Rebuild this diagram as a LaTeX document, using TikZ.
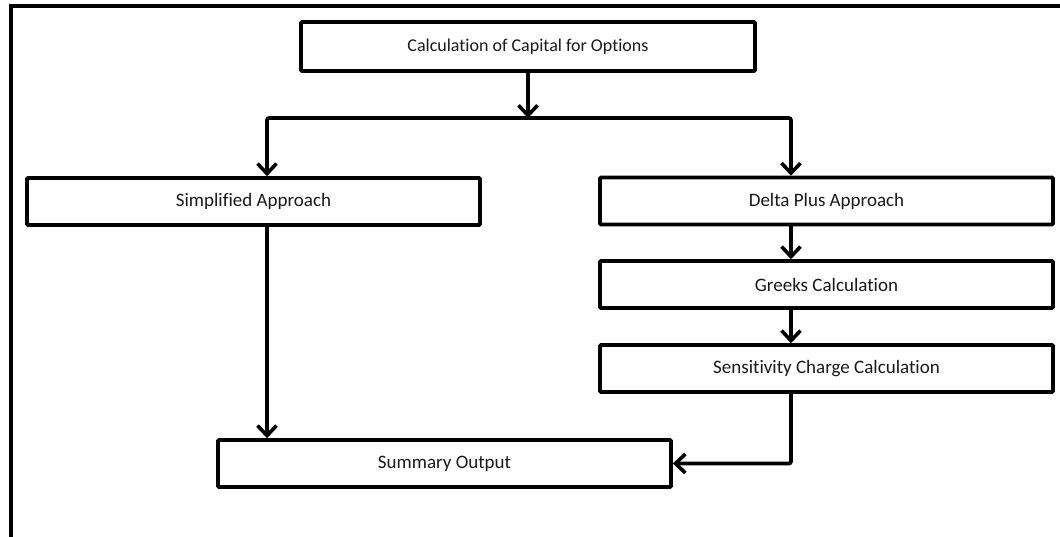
\documentclass[tikz,border=0pt]{standalone}
\usepackage{fontspec}
\setmainfont{Carlito}[Ligatures={NoCommon}]
\usetikzlibrary{arrows.meta}
\begin{document}
\begin{tikzpicture}[x=1pt,y=-1pt,
  box/.style={draw=black, line width=3.6pt, rounded corners=1pt, minimum width=453pt, minimum height=47pt, inner sep=0pt, font=\fontsize{19}{21}\selectfont, text=black!90},
  arr/.style={draw=black, line width=3.6pt, -{Straight Barb[length=10pt,width=19pt]}},
  ln/.style={draw=black, line width=3.6pt}]
\useasboundingbox (0,0) rectangle (1060,536);
\draw[ln] (11,540) -- (11,6) -- (1064,6);
\node[box, minimum width=454pt, minimum height=49pt, font=\fontsize{18}{20}\selectfont] (top) at (528,46.5) {Calculation of Capital for Options};
\node[box] (simp) at (253.5,201.5) {Simplified Approach};
\node[box] (delta) at (826.5,201) {Delta Plus Approach};
\node[box] (greeks) at (826.5,284.5) {Greeks Calculation};
\node[box] (sens) at (826.5,368.5) {Sensitivity Charge Calculation};
\node[box] (summ) at (444.5,463.5) {Summary Output};
\coordinate (j) at (528,118);
\coordinate (jl) at (267,118);
\coordinate (jr) at (791,118);
\draw[arr] (top.south) -- (j);
\draw[arr, rounded corners=2pt] (j) -| (jl |- simp.north);
\draw[arr, rounded corners=2pt] (j) -| (jr |- delta.north);
\draw[arr] (jr |- delta.south) -- (jr |- greeks.north);
\draw[arr] (jr |- greeks.south) -- (jr |- sens.north);
\draw[arr, rounded corners=2pt] (jr |- sens.south) |- (summ.east);
\draw[arr] (jl |- simp.south) -- (jl |- summ.north);
\end{tikzpicture}
\end{document}
